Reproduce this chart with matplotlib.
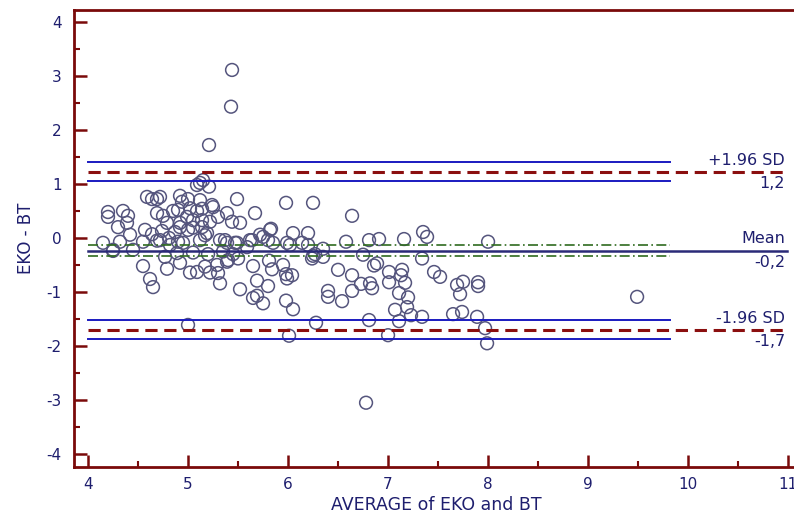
import matplotlib
matplotlib.use("Agg")
import matplotlib.pyplot as plt
from matplotlib.ticker import MultipleLocator

plt.rcParams["axes.unicode_minus"] = False

# Bland-Altman data: average of EKO and BT vs difference EKO - BT
avg = [
    5.44, 5.43, 5.21, 5.12, 5.15, 5.21, 5.09, 5.49, 5.98, 6.25, 5.67, 6.64,
    4.20, 4.20, 4.35, 4.40, 4.39, 4.30, 4.42, 4.57, 4.64, 4.69, 4.75, 4.79,
    4.74, 4.59, 4.64, 4.69, 4.72, 4.85,
    4.69, 4.55, 4.32, 4.15, 4.25, 4.45, 4.82, 4.90, 4.72, 4.81,
    4.55, 4.62, 4.65, 4.77, 4.79, 4.92, 4.89, 4.25,
    4.92, 4.90, 4.94, 5.00, 5.02, 4.99, 4.92, 5.05, 5.09, 4.87, 5.00, 4.92, 5.05,
    5.12, 5.14, 5.25, 5.24, 5.30, 5.39, 5.44, 5.52, 5.14, 5.22, 5.14, 5.19,
    5.17, 5.12, 4.95, 5.32, 5.39, 5.49, 5.37, 5.47,
    5.02, 5.09, 5.17, 5.22, 5.29, 5.30, 5.32, 5.39, 5.40, 5.50, 5.52, 5.00,
    5.05, 5.20, 5.35, 5.45,
    5.72, 5.75, 5.82, 5.83, 6.05, 6.20, 5.62, 5.64, 5.80, 5.59, 5.85, 5.99,
    6.02, 6.14, 6.20,
    5.65, 5.69, 5.80, 5.81, 5.84, 5.95, 5.98, 6.04, 5.99, 5.65, 5.69, 5.75,
    5.98, 6.05, 6.01, 6.24, 6.25, 6.35,
    6.35, 6.27, 6.58, 6.81, 6.91, 7.16, 7.35, 7.39, 6.75, 7.34,
    6.50, 6.64, 6.86, 6.89, 7.01, 7.14, 7.13, 7.01, 7.17, 6.73, 6.82, 6.84,
    6.64, 6.40, 6.40, 6.54, 7.11, 7.20, 7.19, 7.07, 7.23, 7.34, 7.11, 6.81,
    6.28, 7.00, 6.78, 7.46, 7.52,
    7.69, 7.75, 7.72, 7.90, 7.90, 7.65, 7.74, 7.89, 7.97, 7.99, 8.00, 9.49,
]
diff = [
    3.11, 2.43, 1.72, 1.02, 1.07, 0.95, 0.98, 0.72, 0.65, 0.65, 0.46, 0.41,
    0.48, 0.39, 0.50, 0.41, 0.28, 0.20, 0.06, 0.15, 0.07, 0.46, 0.41, 0.28,
    0.13, 0.76, 0.72, 0.72, 0.76, 0.50,
    -0.05, -0.07, -0.07, -0.09, -0.22, -0.22, -0.13, -0.07, -0.04, 0.00,
    -0.52, -0.76, -0.91, -0.35, -0.57, -0.46, -0.28, -0.24,
    0.78, 0.52, 0.67, 0.72, 0.55, 0.39, 0.28, 0.33, 0.50, 0.11, 0.15, 0.20, 0.19,
    0.70, 0.54, 0.57, 0.61, 0.39, 0.46, 0.30, 0.28, 0.20, 0.30, 0.33, 0.09,
    0.05, -0.04, -0.09, -0.04, -0.09, -0.09, -0.04, -0.09,
    -0.64, -0.63, -0.53, -0.64, -0.50, -0.65, -0.84, -0.44, -0.41, -0.38, -0.95, -1.61,
    -0.27, -0.30, -0.25, -0.30,
    0.06, 0.02, 0.15, 0.17, 0.09, 0.09, -0.04, -0.04, -0.04, -0.17, -0.09, -0.09,
    -0.13, -0.09, -0.13,
    -0.52, -0.79, -0.89, -0.42, -0.58, -0.50, -0.67, -0.69, -0.75, -1.11, -1.07, -1.21,
    -1.16, -1.32, -1.81, -0.38, -0.33, -0.35,
    -0.20, -0.30, -0.07, -0.04, -0.02, -0.02, 0.11, 0.02, -0.31, -0.38,
    -0.59, -0.69, -0.51, -0.47, -0.63, -0.59, -0.69, -0.82, -0.83, -0.85, -0.84, -0.93,
    -0.98, -0.98, -1.09, -1.17, -1.02, -1.10, -1.28, -1.33, -1.43, -1.46, -1.54, -1.52,
    -1.57, -1.80, -3.05, -0.63, -0.72,
    -0.87, -0.81, -1.04, -0.82, -0.89, -1.41, -1.37, -1.46, -1.67, -1.95, -0.07, -1.09,
]

mean_diff = -0.235
upper_loa = 1.22
lower_loa = -1.70
upper_ci = [1.05, 1.41]
lower_ci = [-1.87, -1.52]
mean_ci = [-0.33, -0.13]
line_labels = [("+1.96 SD", "1,2", upper_loa), ("Mean", "-0,2", mean_diff),
               ("-1.96 SD", "-1,7", lower_loa)]

AXIS_RED = "#7a0a0a"
NAVY = "#1e1e6e"

fig = plt.figure(figsize=(7.94, 5.15), dpi=100)
ax = fig.add_axes([0.0932, 0.0932, 0.912, 0.8874])

ax.scatter(avg, diff, s=9.2 ** 2, facecolors="none", edgecolors="#55557d",
           linewidths=1.1, zorder=2)

x0, x_ci, x_end = 4.0, 9.82, 10.99
for y in upper_ci + lower_ci:
    ax.plot([x0, x_ci], [y, y], color="#1a1ac0", lw=1.4, zorder=3)
for y in mean_ci:
    ax.plot([x0, x_ci], [y, y], color="#2f6b1f", lw=1.2, ls=(0, (6, 2, 1, 2)),
            zorder=3)
for y in (upper_loa, lower_loa):
    ax.plot([x0, x_end], [y, y], color="#8b0f0f", lw=2.2, ls=(0, (4, 2.2)),
            zorder=3)
ax.plot([x0, x_end], [mean_diff, mean_diff], color="#2a2a78", lw=1.8, zorder=3)

for top, bottom, y in line_labels:
    ax.annotate(top, (10.97, y), xytext=(0, 3), textcoords="offset points",
                ha="right", va="bottom", color=NAVY, fontsize=11.5)
    ax.annotate(bottom, (10.97, y), xytext=(0, -3), textcoords="offset points",
                ha="right", va="top", color=NAVY, fontsize=11.5)

ax.set_xlim(3.86, 11.1)
ax.set_ylim(-4.24, 4.22)
ax.xaxis.set_minor_locator(MultipleLocator(0.5))
ax.yaxis.set_minor_locator(MultipleLocator(0.5))
ax.set_xticks(range(4, 12))
ax.set_yticks(range(-4, 5))

ax.spines["right"].set_visible(False)
for side in ("left", "bottom", "top"):
    ax.spines[side].set_color(AXIS_RED)
    ax.spines[side].set_linewidth(2)
ax.tick_params(which="major", direction="in", length=9, width=1.8,
               color=AXIS_RED, labelcolor=NAVY, labelsize=11)
ax.tick_params(which="minor", direction="in", length=4.5, width=1.5,
               color=AXIS_RED)
ax.tick_params(axis="y", which="major", pad=9)
ax.tick_params(axis="x", which="major", pad=7)

ax.set_xlabel("AVERAGE of EKO and BT", color=NAVY, fontsize=12.5, labelpad=3)
ax.set_ylabel("EKO - BT", color=NAVY, fontsize=12, labelpad=8)

fig.savefig("out.png", dpi=100)
